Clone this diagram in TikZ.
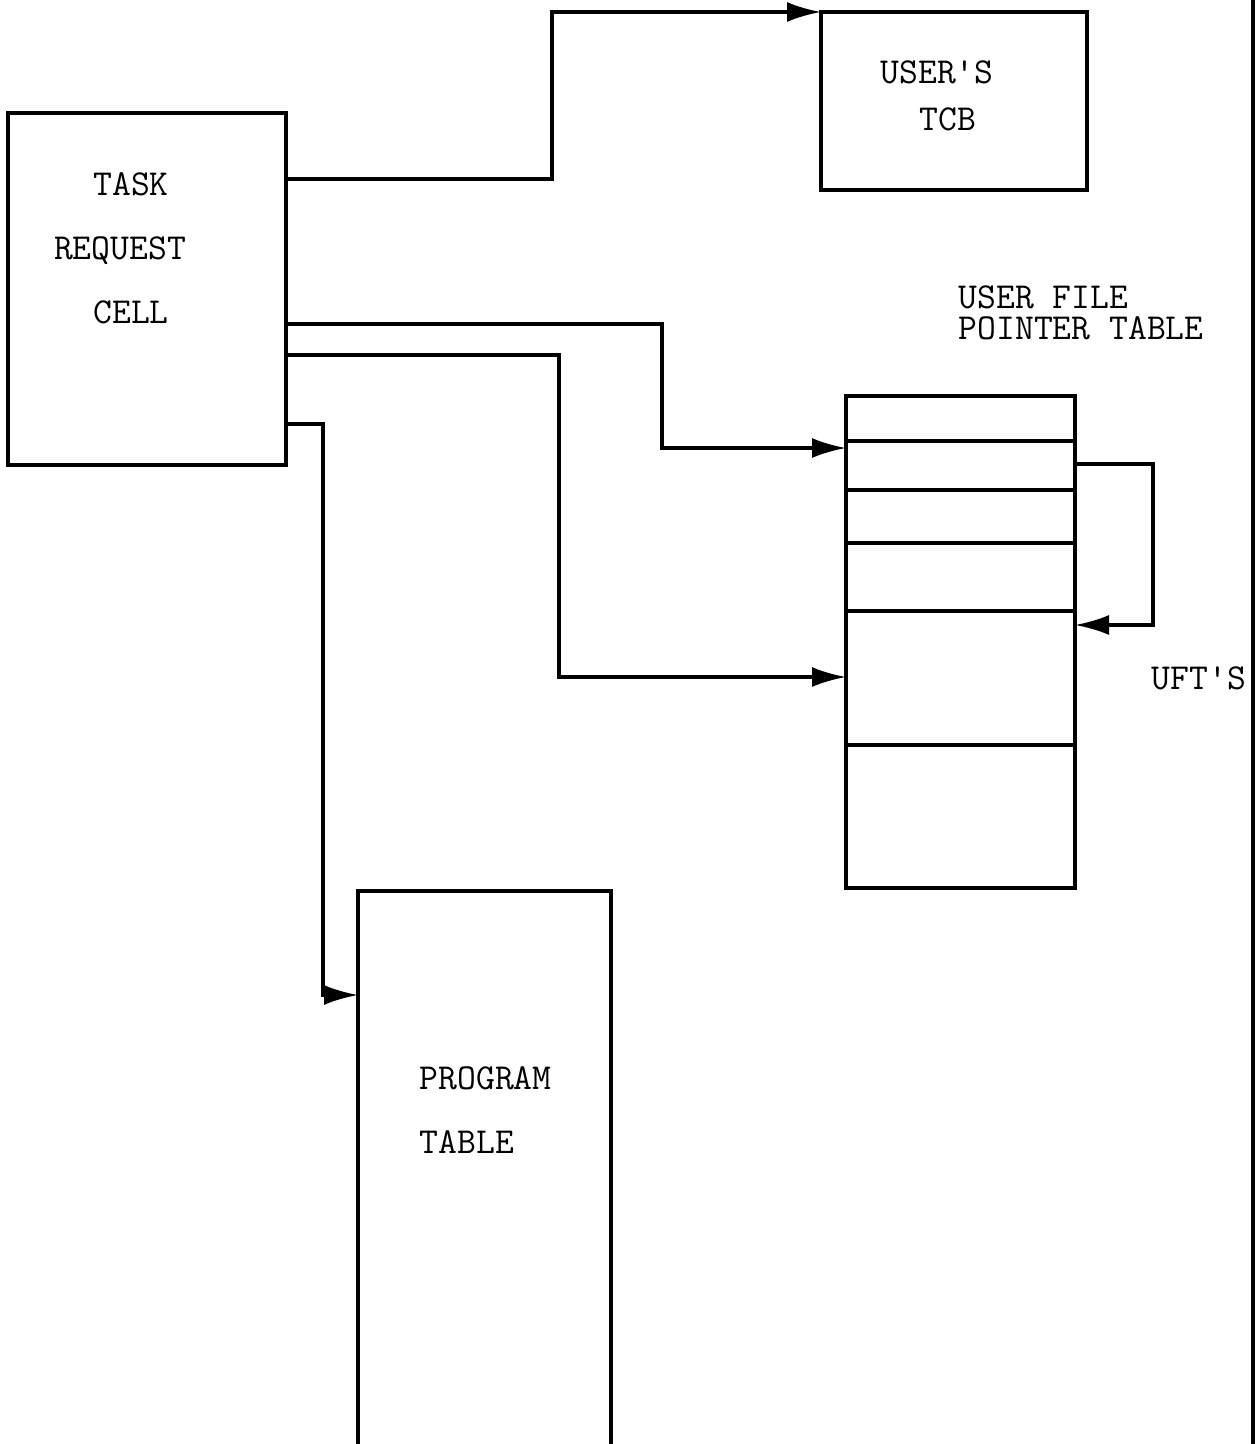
\documentclass[tikz,border=0pt]{standalone}
\usetikzlibrary{arrows.meta}
\begin{document}
\begin{tikzpicture}[x=1pt,y=-1pt,
  line width=3.2pt,
  box/.style={draw,line width=3.2pt,inner sep=0,outer sep=0},
  arr/.style={-{Latex[length=34pt,width=20pt]}},
  lbl/.style={inner sep=0,font=\fontsize{36.6}{40}\selectfont\ttfamily,text height=22pt,text depth=0pt}]
\useasboundingbox (0,0) rectangle (1258,1444);
% boxes
\node[box,minimum width=278pt,minimum height=352pt] (trc) at (147,289) {};
\node[box,minimum width=266pt,minimum height=178pt] (tcb) at (954,101) {};
\node[box,minimum width=229pt,minimum height=492pt] (ufpt) at (960.5,642) {};
\node[box,minimum width=253pt,minimum height=580pt] (prog) at (484.5,1181) {};
% rows of the user file pointer table
\foreach \yy in {441,490,543,611,745}
  \draw (ufpt.west |- 0,\yy) -- (ufpt.east |- 0,\yy);
% right border line
\draw (1253,0) -- (1253,1444);
% labels
\node[lbl] (l1) at (131,184) {TASK};
\node[lbl] (l2) at (120,248) {REQUEST};
\node[lbl] (l3) at (131,312) {CELL};
\node[lbl] (l4) at (937,72) {USER'S};
\node[lbl] (l5) at (948,119) {TCB};
\node[inner sep=0,font=\fontsize{36.6}{31}\selectfont\ttfamily,align=left,anchor=north west] (l6) at (957,284) {USER FILE\\POINTER TABLE};
\node[lbl,anchor=west] (l8) at (1150,678) {UFT'S};
\node[lbl,anchor=west] (l9) at (418,1078) {PROGRAM};
\node[lbl,anchor=west] (l10) at (418,1142) {TABLE};
% connectors
\draw[arr] (trc.east |- 0,179) -- (552,179) |- (tcb.north west);
\draw[arr] (trc.east |- 0,324) -| (662,448) -- (ufpt.west |- 0,448);
\draw[arr] (trc.east |- 0,355) -| (559,677) -- (ufpt.west |- 0,677);
\draw[arr] (trc.east |- 0,424) -| (323,995) -- (prog.west |- 0,995);
\draw[arr] (ufpt.east |- 0,464) -| (1153,625) -- (ufpt.east |- 0,625);
\end{tikzpicture}
\end{document}
